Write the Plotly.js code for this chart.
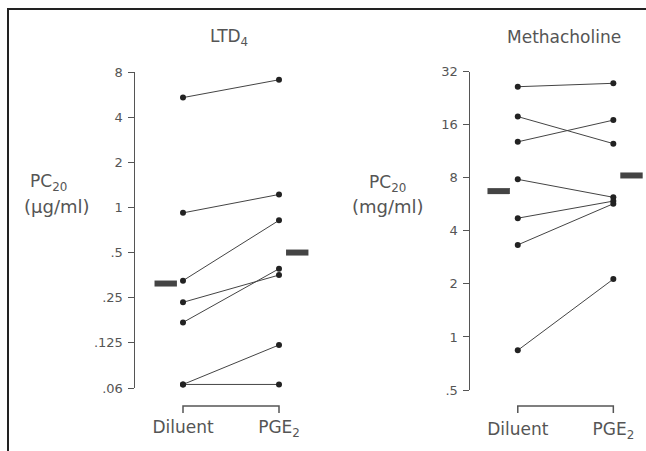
<!DOCTYPE html>
<html>
<head>
<meta charset="utf-8">
<script src="https://cdn.plot.ly/plotly-3.0.1.min.js"></script>
<style>html,body{margin:0;padding:0;background:#fff;}#chart{width:646px;height:451px;}</style>
</head>
<body>
<div id="chart"></div>
<script>
// ---- data ----
const categories = ['Diluent', 'PGE<sub>2</sub>'];
const panelTitles = ['LTD<sub>4</sub>', 'Methacholine'];
const unitLabels = ['(µg/ml)', '(mg/ml)'];

const ltd4Diluent = [5.4, 0.92, 0.325, 0.233, 0.171, 0.066, 0.066];
const ltd4PGE2    = [7.1, 1.22, 0.82, 0.354, 0.39, 0.121, 0.066];

const methDiluent = [26.3, 17.8, 12.8, 7.84, 4.72, 3.33, 0.84];
const methPGE2    = [27.5, 12.5, 17.0, 6.2, 5.9, 5.7, 2.13];

const ltd4TickVals = [0.0625, 0.125, 0.25, 0.5, 1, 2, 4, 8];
const ltd4TickText = ['.06', '.125', '.25', '.5', '1', '2', '4', '8'];
const methTickVals = [0.5, 1, 2, 4, 8, 16, 32];
const methTickText = ['.5', '1', '2', '4', '8', '16', '32'];

// ---- helpers ----
const W = 646, H = 451;
const px = v => v / W;
const py = v => 1 - v / H;
const geoMean = a => Math.pow(10, a.reduce((s, v) => s + Math.log10(v), 0) / a.length);
const FONT = 'DejaVu Sans, Arial, sans-serif';
const TXT = '#555';

function pairTrace(pre, post, xa, ya) {
  const x = [], y = [];
  pre.forEach((v, i) => { x.push(1, 2, null); y.push(v, post[i], null); });
  return {
    type: 'scatter', mode: 'lines+markers', x, y, xaxis: xa, yaxis: ya,
    line: {color: '#444', width: 1},
    marker: {color: '#222', size: 6, symbol: 'circle'},
    cliponaxis: false, hoverinfo: 'skip', showlegend: false
  };
}
function meanTrace(pre, post, offPre, offPost, xa, ya) {
  return {
    type: 'scatter', mode: 'markers', x: [1 + offPre, 2 + offPost],
    y: [geoMean(pre), geoMean(post)], xaxis: xa, yaxis: ya,
    marker: {symbol: 'line-ew', size: 16, color: '#444', line: {width: 6, color: '#444'}},
    cliponaxis: false, hoverinfo: 'skip', showlegend: false
  };
}

const data = [
  pairTrace(ltd4Diluent, ltd4PGE2, 'x', 'y'),
  meanTrace(ltd4Diluent, ltd4PGE2, -0.18, 0.19, 'x', 'y'),
  pairTrace(methDiluent, methPGE2, 'x2', 'y2'),
  meanTrace(methDiluent, methPGE2, -0.20, 0.19, 'x2', 'y2')
];

function yAxis(vals, text, top, bottom, anchor) {
  return {
    type: 'log', domain: [py(bottom), py(top)], anchor: anchor,
    range: [Math.log10(vals[0]), Math.log10(vals[vals.length - 1])],
    tickvals: vals, ticktext: text, ticks: 'outside', ticklen: 6, tickwidth: 1, tickcolor: '#555',
    showline: true, linecolor: '#555', linewidth: 1.5, showgrid: false, zeroline: false,
    tickfont: {family: FONT, size: 13, color: TXT}, ticklabelstandoff: 2
  };
}
function xAxis(left, right, anchor) {
  return {
    domain: [px(left), px(right)], anchor: anchor, range: [0.5, 2.3],
    tickvals: [1, 2], ticktext: categories, ticks: '', showline: false, showgrid: false, zeroline: false,
    tickfont: {family: FONT, size: 17, color: TXT}, ticklabelstandoff: 27
  };
}

const bracket = (xr, y0, y1) => ({
  type: 'path', xref: xr, yref: 'paper',
  path: `M 1,${y1} L 1,${y0} L 2,${y0} L 2,${y1}`,
  line: {color: '#555', width: 1.5}
});

const ann = (x, y, text, size) => ({
  xref: 'paper', yref: 'paper', x: px(x), y: py(y), xanchor: 'center', yanchor: 'middle',
  text, showarrow: false, font: {family: FONT, size: size, color: TXT}
});

const layout = {
  width: W, height: H, margin: {l: 0, r: 0, t: 0, b: 0},
  paper_bgcolor: '#fff', plot_bgcolor: 'rgba(0,0,0,0)', showlegend: false,
  xaxis: xAxis(135, 307.8, 'y'),
  yaxis: yAxis(ltd4TickVals, ltd4TickText, 72, 388, 'x'),
  xaxis2: xAxis(470, 642, 'y2'),
  yaxis2: yAxis(methTickVals, methTickText, 71.7, 390, 'x2'),
  shapes: [
    {type: 'path', xref: 'paper', yref: 'paper', path: `M ${px(8)},0 L ${px(8)},${py(9)} L 1,${py(9)}`, line: {color: '#222', width: 2}},
    bracket('x', py(406), py(413)),
    bracket('x2', py(406), py(413))
  ],
  annotations: [
    ann(229, 38, panelTitles[0], 17),
    ann(564, 37, panelTitles[1], 17),
    ann(48, 182, 'PC<sub>20</sub>', 17),
    ann(57, 206, unitLabels[0], 18),
    ann(387, 183, 'PC<sub>20</sub>', 17),
    ann(388, 206, unitLabels[1], 18)
  ]
};

Plotly.newPlot('chart', data, layout, {staticPlot: true, displayModeBar: false});
</script>
</body>
</html>
